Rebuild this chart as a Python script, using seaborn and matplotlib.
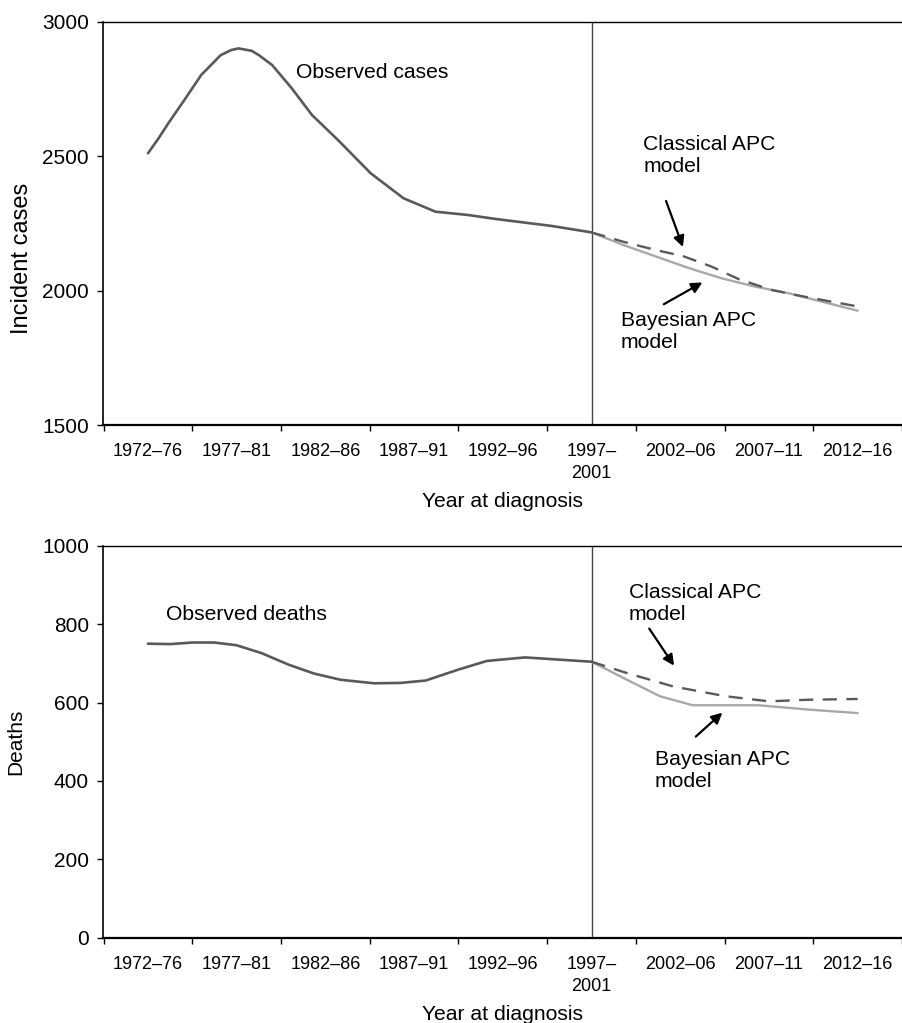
import matplotlib
matplotlib.use("Agg")
import matplotlib.pyplot as plt
import seaborn as sns
import numpy as np

# ---------------- data ----------------
periods = ["1972–76", "1977–81", "1982–86", "1987–91", "1992–96",
           "1997–\n2001", "2002–06", "2007–11", "2012–16"]

# Incident cases (x = position in period units, 0 = 1972–76)
cases_obs_x = [0, 0.12, 0.23, 0.41, 0.6, 0.82, 0.94, 1.02, 1.17, 1.25, 1.4,
               1.62, 1.85, 2.14, 2.51, 2.88, 3.24, 3.6, 3.94, 4.55, 5.0]
cases_obs_y = [2510, 2566, 2622, 2708, 2801, 2875, 2894, 2900, 2891, 2875, 2838,
               2752, 2652, 2560, 2436, 2343, 2293, 2281, 2265, 2240, 2216]

cases_classical_x = [5, 5.36, 5.73, 6.03, 6.36, 6.66, 7.03, 7.4, 7.98]
cases_classical_y = [2216, 2181, 2150, 2128, 2088, 2042, 2002, 1977, 1942]

cases_bayes_x = [5, 5.36, 5.73, 6.1, 6.47, 6.85, 7.22, 8.0]
cases_bayes_y = [2216, 2169, 2126, 2083, 2045, 2014, 1990, 1925]

# Deaths
deaths_obs_x = [0, 0.25, 0.5, 0.75, 1.0, 1.28, 1.58, 1.87, 2.17, 2.55, 2.85,
                3.13, 3.5, 3.82, 4.25, 4.66, 5.0]
deaths_obs_y = [750, 749, 753, 753, 746, 726, 697, 674, 658, 649, 650,
                656, 684, 706, 715, 709, 704]

deaths_classical_x = [5, 5.4, 5.92, 6.51, 7.0, 7.44, 8.0]
deaths_classical_y = [704, 675, 641, 616, 603, 607, 609]

deaths_bayes_x = [5, 5.4, 5.77, 6.14, 6.88, 7.44, 8.0]
deaths_bayes_y = [704, 658, 616, 593, 593, 582, 573]

# ---------------- style ----------------
sns.set_style("white")
plt.rcParams["font.family"] = ["Liberation Sans", "DejaVu Sans"]
plt.rcParams["text.color"] = "black"
plt.rcParams["axes.labelcolor"] = "black"
plt.rcParams["xtick.color"] = "black"
plt.rcParams["ytick.color"] = "black"

OBS_C = "#595959"
CLS_C = "#5a5a5a"
BAY_C = "#a8a8a8"

W, H = 902, 1023
fig = plt.figure(figsize=(W / 100, H / 100), dpi=100)
ax1 = fig.add_axes([103 / W, 1 - 425 / H, 799 / W, 403.5 / H])
ax2 = fig.add_axes([103 / W, 1 - 937.7 / H, 799 / W, 392 / H])


def style_axis(ax, ylim, yticks, ylabel, ylabel_size):
    ax.set_xlim(-0.507, 8.39)
    ax.set_ylim(*ylim)
    ax.set_xticks(np.arange(-0.5, 9.0, 1.0))
    ax.set_xticklabels([])
    ax.set_xticks(np.arange(len(periods)), minor=True)
    labs = ax.set_xticklabels(periods, minor=True, fontsize=13)
    for t in labs:
        t.set_linespacing(1.4)
    ax.tick_params(axis="x", which="major", direction="out", length=4,
                   width=1.0, color="black", bottom=True)
    ax.tick_params(axis="x", which="minor", length=0, pad=13)
    ax.set_yticks(yticks)
    ax.tick_params(axis="y", direction="out", length=4, width=1.0,
                   color="black", labelsize=15, pad=6, left=True)
    for s in ["left", "bottom", "top"]:
        ax.spines[s].set_visible(True)
        ax.spines[s].set_color("black")
    ax.spines["left"].set_linewidth(1.2)
    ax.spines["bottom"].set_linewidth(1.6)
    ax.spines["top"].set_linewidth(1.0)
    ax.spines["right"].set_visible(False)
    ax.set_xlabel("Year at diagnosis", fontsize=15.2, labelpad=7)
    ax.set_ylabel(ylabel, fontsize=ylabel_size, labelpad=12)
    ax.grid(False)


def draw(ax, ox, oy, cx, cy, bx, by):
    sns.lineplot(x=bx, y=by, ax=ax, color=BAY_C, linewidth=1.7)
    l = sns.lineplot(x=cx, y=cy, ax=ax, color=CLS_C, linewidth=1.7)
    l.lines[-1].set_dashes((6, 4))
    sns.lineplot(x=ox, y=oy, ax=ax, color=OBS_C, linewidth=1.9)
    ax.axvline(5, color="#444444", linewidth=1.0, zorder=1)


draw(ax1, cases_obs_x, cases_obs_y, cases_classical_x, cases_classical_y,
     cases_bayes_x, cases_bayes_y)
draw(ax2, deaths_obs_x, deaths_obs_y, deaths_classical_x, deaths_classical_y,
     deaths_bayes_x, deaths_bayes_y)

style_axis(ax1, (1500, 3000), [1500, 2000, 2500, 3000], "Incident cases", 17)
style_axis(ax2, (0, 1000), [0, 200, 400, 600, 800, 1000], "Deaths", 15)
ax1.yaxis.set_label_coords(-0.087, 0.414)

TXT = 15.2
arrow = dict(arrowstyle="-|>", color="black", lw=1.6, mutation_scale=16,
             shrinkA=0, shrinkB=0)

# top panel annotations
ax1.text(1.665, 2810, "Observed cases", fontsize=TXT, ha="left", va="center")
ax1.text(5.585, 2502, "Classical APC\nmodel", fontsize=TXT, ha="left", va="center")
ax1.annotate("", xy=(6.03, 2162), xytext=(5.84, 2333), arrowprops=arrow)
ax1.text(5.33, 1846, "Bayesian APC\nmodel", fontsize=TXT, ha="left", va="center")
ax1.annotate("", xy=(6.25, 2030), xytext=(5.815, 1949), arrowprops=arrow)

# bottom panel annotations
ax2.text(0.206, 824, "Observed deaths", fontsize=TXT, ha="left", va="center")
ax2.text(5.418, 852, "Classical APC\nmodel", fontsize=TXT, ha="left", va="center")
ax2.annotate("", xy=(5.93, 694), xytext=(5.651, 788.5), arrowprops=arrow)
ax2.text(5.715, 427, "Bayesian APC\nmodel", fontsize=TXT, ha="left", va="center")
ax2.annotate("", xy=(6.475, 574), xytext=(6.175, 513), arrowprops=arrow)

fig.savefig("out.png", dpi=100)
